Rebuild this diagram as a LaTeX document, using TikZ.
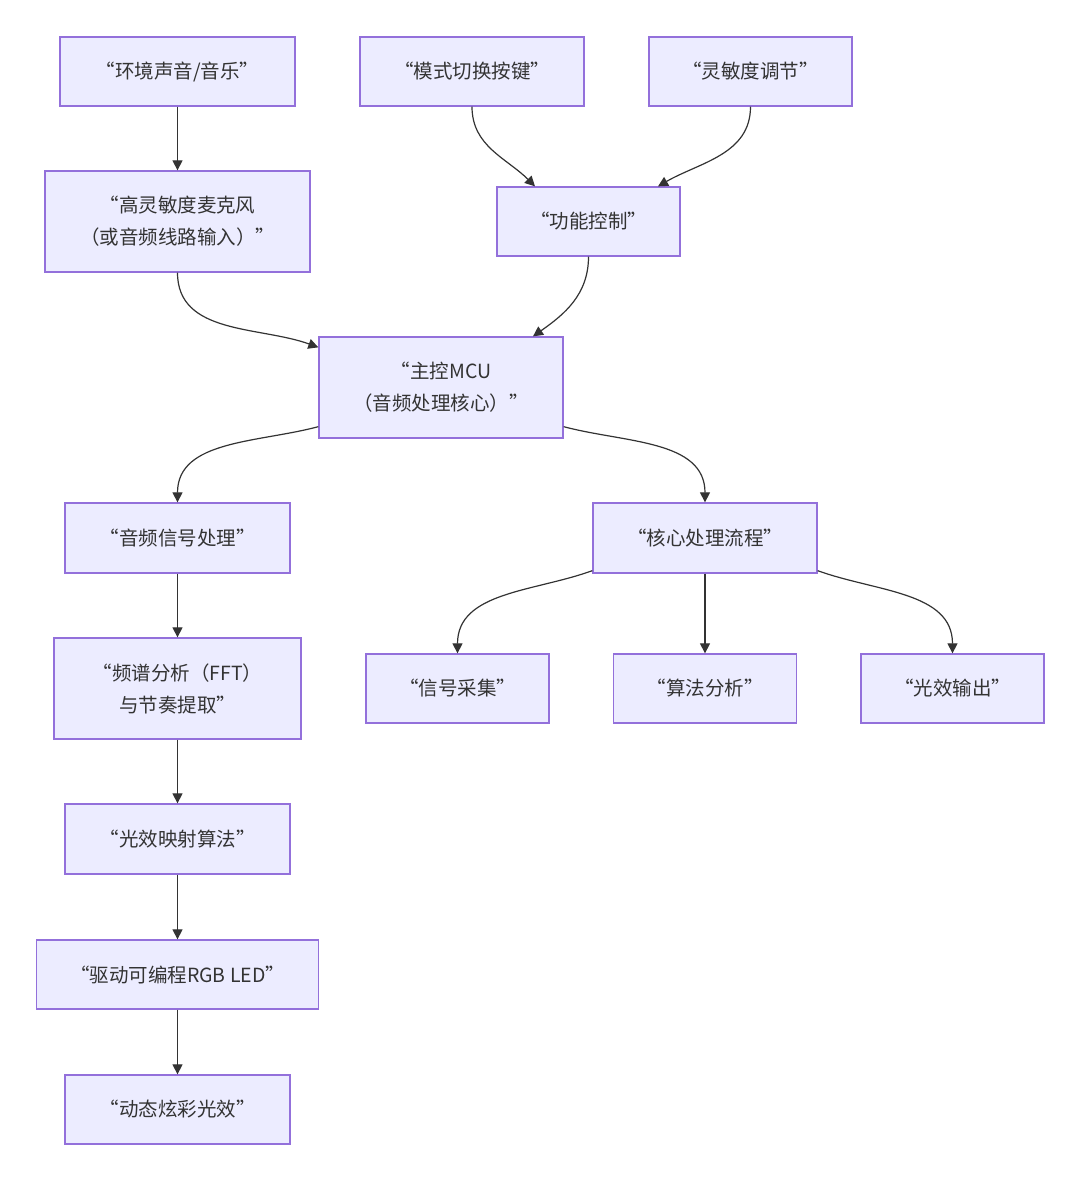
\documentclass[tikz,border=0pt]{standalone}
\usepackage{fontspec}
\setmainfont{Noto Sans CJK SC}
\usetikzlibrary{arrows.meta}
\definecolor{boxfill}{HTML}{ECECFF}
\definecolor{boxline}{HTML}{9370DB}
\definecolor{edgecol}{HTML}{333333}
\tikzset{
  box/.style={draw=boxline, fill=boxfill, line width=1.3pt, inner sep=0pt,
    align=center, font=\fontsize{19.5}{32}\selectfont, text=edgecol},
  flow/.style={draw=edgecol, line width=1.2pt, -{Triangle[length=10pt,width=10pt]}}
}
\begin{document}
\begin{tikzpicture}[x=1pt, y=-1pt]
  \useasboundingbox (0,0) rectangle (1080,1181);
  % top row
  \node[box, minimum width=235, minimum height=69] (env) at (177.5,71.5) {“环境声音/音乐”};
  \node[box, minimum width=224, minimum height=69] (mode) at (472,71.5) {“模式切换按键”};
  \node[box, minimum width=203, minimum height=69] (sens) at (750.5,71.5) {“灵敏度调节”};
  \node[box, minimum width=265, minimum height=101] (mic) at (177.5,221.5) {“高灵敏度麦克风\\（或音频线路输入）”};
  \node[box, minimum width=183, minimum height=69] (func) at (588.5,221.5) {“功能控制”};
  % core
  \node[box, minimum width=244, minimum height=101] (mcu) at (441,387.5) {“主控MCU\\（音频处理核心）”};
  \node[box, minimum width=225, minimum height=70] (sig) at (177.5,538) {“音频信号处理”};
  \node[box, minimum width=224, minimum height=70] (core) at (705,538) {“核心处理流程”};
  \node[box, minimum width=247, minimum height=101] (fft) at (177.5,688.5) {“频谱分析（FFT）\\与节奏提取”};
  \node[box, minimum width=183, minimum height=69] (collect) at (457.5,688.5) {“信号采集”};
  \node[box, minimum width=183, minimum height=69] (algo) at (705,688.5) {“算法分析”};
  \node[box, minimum width=183, minimum height=69] (lightout) at (952.5,688.5) {“光效输出”};
  \node[box, minimum width=225, minimum height=70] (mapping) at (177.5,839) {“光效映射算法”};
  \node[box, minimum width=282, minimum height=69] (driver) at (177.5,974.5) {“驱动可编程RGB LED”};
  \node[box, minimum width=225, minimum height=69] (effect) at (177.5,1109.5) {“动态炫彩光效”};
  % edges
  \draw[flow] (env.south) -- (mic.north);
  \draw[flow] (mode.south) to[out=-90, in=135] ([xshift=-53.5]func.north);
  \draw[flow] (sens.south) to[out=-90, in=30] ([xshift=69.5]func.north);
  \draw[flow] (mic.south) to[out=-90, in=160] ([yshift=-11]mcu.north west);
  \draw[flow] (func.south) to[out=-90, in=35] ([xshift=92]mcu.north);
  \draw[flow] ([yshift=12]mcu.south west) to[out=195, in=90] (sig.north);
  \draw[flow] ([yshift=12]mcu.south east) to[out=-15, in=90] (core.north);
  \draw[flow] ([yshift=3]core.south west) to[out=200, in=90] (collect.north);
  \draw[flow] (core.south) -- (algo.north);
  \draw[flow] ([yshift=3]core.south east) to[out=-20, in=90] (lightout.north);
  \draw[flow] (sig.south) -- (fft.north);
  \draw[flow] (fft.south) -- (mapping.north);
  \draw[flow] (mapping.south) -- (driver.north);
  \draw[flow] (driver.south) -- (effect.north);
\end{tikzpicture}
\end{document}
